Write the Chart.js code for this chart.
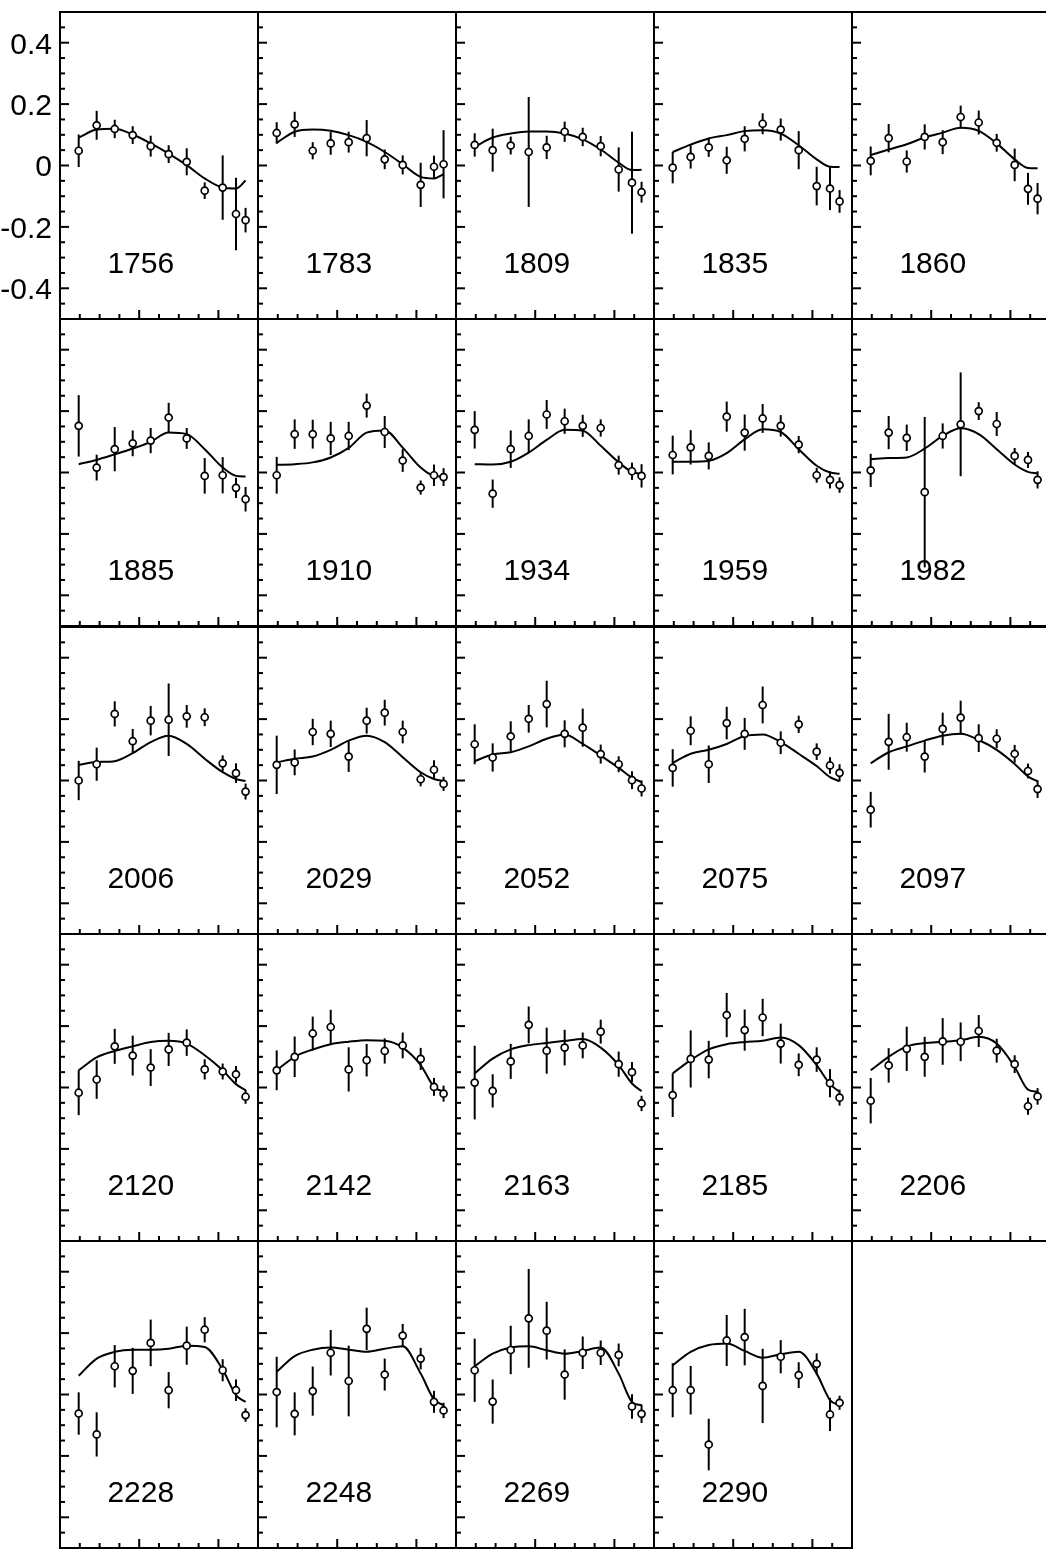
<!DOCTYPE html>
<html>
<head>
<meta charset="utf-8">
<script src="https://cdn.jsdelivr.net/npm/chart.js@4.4.0/dist/chart.umd.min.js"></script>
<style>
  html, body { margin: 0; padding: 0; background: #fff; }
  #fig { position: relative; width: 1046px; height: 1549px; overflow: hidden; background: #fff; }
  #fig canvas { position: absolute; }
</style>
</head>
<body>
<div id="fig"></div>
<script>
// Beam energy of each panel
const energies = ['1756','1783','1809','1835','1860','1885','1910','1934','1959','1982',
                  '2006','2029','2052','2075','2097','2120','2142','2163','2185','2206',
                  '2228','2248','2269','2290'];

// Bin centres shared by every panel
const xBins = [0.236, 0.463, 0.691, 0.918, 1.145, 1.372, 1.600, 1.827, 2.054, 2.222, 2.343];

// Measured values, one row per panel
const values = [
  [0.048, 0.131, 0.119, 0.099, 0.063, 0.037, 0.012, -0.082, -0.072, -0.158, -0.178],
  [0.106, 0.134, 0.048, 0.072, 0.076, 0.089, 0.020, 0.002, -0.063, -0.004, 0.004],
  [0.067, 0.050, 0.065, 0.044, 0.059, 0.110, 0.093, 0.063, -0.013, -0.056, -0.087],
  [-0.007, 0.028, 0.059, 0.017, 0.087, 0.136, 0.117, 0.050, -0.067, -0.075, -0.117],
  [0.015, 0.089, 0.013, 0.093, 0.076, 0.158, 0.140, 0.074, 0.002, -0.076, -0.108],
  [0.152, 0.016, 0.076, 0.095, 0.104, 0.179, 0.111, -0.011, -0.009, -0.050, -0.087],
  [-0.009, 0.125, 0.125, 0.111, 0.119, 0.218, 0.132, 0.039, -0.049, -0.009, -0.015],
  [0.139, -0.069, 0.076, 0.119, 0.189, 0.167, 0.152, 0.145, 0.024, 0.004, -0.011],
  [0.057, 0.082, 0.054, 0.182, 0.130, 0.176, 0.152, 0.091, -0.009, -0.024, -0.041],
  [0.007, 0.130, 0.113, -0.064, 0.119, 0.157, 0.200, 0.158, 0.054, 0.041, -0.024],
  [0.000, 0.053, 0.217, 0.128, 0.195, 0.198, 0.209, 0.206, 0.056, 0.024, -0.036],
  [0.051, 0.059, 0.158, 0.152, 0.078, 0.195, 0.221, 0.158, 0.004, 0.035, -0.011],
  [0.118, 0.075, 0.144, 0.201, 0.249, 0.152, 0.172, 0.086, 0.053, 0.001, -0.026],
  [0.041, 0.162, 0.053, 0.187, 0.152, 0.246, 0.123, 0.183, 0.094, 0.049, 0.025],
  [-0.095, 0.126, 0.141, 0.078, 0.168, 0.205, 0.138, 0.136, 0.087, 0.031, -0.028],
  [-0.017, 0.026, 0.134, 0.104, 0.065, 0.124, 0.146, 0.059, 0.052, 0.043, -0.030],
  [0.056, 0.100, 0.176, 0.197, 0.059, 0.089, 0.119, 0.137, 0.093, 0.002, -0.020],
  [0.016, -0.011, 0.085, 0.204, 0.120, 0.130, 0.137, 0.182, 0.076, 0.050, -0.052],
  [-0.025, 0.093, 0.091, 0.236, 0.187, 0.228, 0.143, 0.074, 0.091, 0.014, -0.033],
  [-0.043, 0.072, 0.126, 0.100, 0.150, 0.149, 0.184, 0.120, 0.076, -0.061, -0.029],
  [-0.062, -0.130, 0.092, 0.077, 0.168, 0.014, 0.159, 0.211, 0.079, 0.014, -0.067],
  [0.008, -0.063, 0.011, 0.136, 0.044, 0.214, 0.065, 0.192, 0.117, -0.024, -0.052],
  [0.079, -0.023, 0.145, 0.248, 0.208, 0.065, 0.136, 0.136, 0.129, -0.039, -0.063],
  [0.014, 0.014, -0.163, 0.176, 0.187, 0.028, 0.123, 0.063, 0.100, -0.065, -0.027]
];

// Symmetric uncertainties, same layout as values
const errors = [
  [0.053, 0.047, 0.030, 0.029, 0.034, 0.029, 0.044, 0.027, 0.105, 0.118, 0.040],
  [0.035, 0.041, 0.028, 0.037, 0.034, 0.059, 0.032, 0.031, 0.072, 0.036, 0.111],
  [0.038, 0.070, 0.029, 0.179, 0.038, 0.033, 0.030, 0.033, 0.072, 0.166, 0.034],
  [0.051, 0.038, 0.031, 0.044, 0.041, 0.034, 0.036, 0.062, 0.063, 0.070, 0.037],
  [0.047, 0.046, 0.036, 0.041, 0.039, 0.037, 0.039, 0.029, 0.053, 0.052, 0.051],
  [0.100, 0.042, 0.072, 0.042, 0.041, 0.048, 0.034, 0.058, 0.059, 0.033, 0.040],
  [0.060, 0.048, 0.047, 0.054, 0.046, 0.039, 0.052, 0.037, 0.023, 0.035, 0.029],
  [0.061, 0.046, 0.061, 0.054, 0.047, 0.041, 0.036, 0.028, 0.031, 0.028, 0.038],
  [0.063, 0.056, 0.044, 0.049, 0.059, 0.047, 0.035, 0.028, 0.024, 0.028, 0.025],
  [0.054, 0.054, 0.043, 0.245, 0.041, 0.169, 0.029, 0.039, 0.026, 0.026, 0.028],
  [0.064, 0.054, 0.041, 0.040, 0.048, 0.118, 0.037, 0.029, 0.026, 0.032, 0.026],
  [0.095, 0.042, 0.043, 0.043, 0.050, 0.042, 0.042, 0.037, 0.023, 0.031, 0.023],
  [0.065, 0.046, 0.049, 0.045, 0.076, 0.044, 0.062, 0.031, 0.026, 0.029, 0.026],
  [0.061, 0.047, 0.061, 0.053, 0.052, 0.060, 0.037, 0.028, 0.027, 0.027, 0.028],
  [0.058, 0.091, 0.047, 0.052, 0.053, 0.055, 0.045, 0.031, 0.029, 0.024, 0.029],
  [0.073, 0.063, 0.057, 0.065, 0.060, 0.054, 0.043, 0.033, 0.026, 0.027, 0.023],
  [0.065, 0.066, 0.055, 0.056, 0.072, 0.053, 0.041, 0.042, 0.036, 0.029, 0.026],
  [0.120, 0.054, 0.057, 0.060, 0.075, 0.058, 0.042, 0.039, 0.041, 0.033, 0.025],
  [0.071, 0.093, 0.061, 0.072, 0.067, 0.061, 0.065, 0.037, 0.040, 0.046, 0.026],
  [0.074, 0.056, 0.072, 0.065, 0.076, 0.063, 0.052, 0.039, 0.029, 0.028, 0.027],
  [0.069, 0.072, 0.069, 0.075, 0.076, 0.059, 0.062, 0.041, 0.036, 0.035, 0.022],
  [0.115, 0.070, 0.080, 0.074, 0.115, 0.069, 0.052, 0.038, 0.035, 0.036, 0.025],
  [0.103, 0.072, 0.079, 0.161, 0.094, 0.082, 0.053, 0.040, 0.037, 0.040, 0.030],
  [0.088, 0.079, 0.084, 0.083, 0.092, 0.121, 0.054, 0.042, 0.034, 0.054, 0.023]
];

// Model curve sampled at the bin centres
const fitCurve = [
  [0.091, 0.117, 0.120, 0.101, 0.072, 0.039, 0.001, -0.042, -0.072, -0.075, -0.049],
  [0.074, 0.110, 0.117, 0.113, 0.099, 0.077, 0.044, 0.004, -0.037, -0.042, -0.028],
  [0.061, 0.091, 0.104, 0.111, 0.111, 0.104, 0.085, 0.052, 0.009, -0.015, -0.014],
  [0.044, 0.068, 0.088, 0.099, 0.112, 0.115, 0.104, 0.066, 0.020, -0.004, -0.005],
  [0.034, 0.052, 0.069, 0.091, 0.107, 0.123, 0.113, 0.072, 0.020, -0.008, -0.009],
  [0.027, 0.041, 0.059, 0.078, 0.100, 0.130, 0.125, 0.076, 0.016, -0.011, -0.013],
  [0.025, 0.027, 0.033, 0.049, 0.080, 0.130, 0.137, 0.081, 0.016, -0.011, -0.013],
  [0.027, 0.026, 0.035, 0.065, 0.106, 0.139, 0.136, 0.087, 0.033, 0.002, -0.005],
  [0.035, 0.035, 0.038, 0.063, 0.108, 0.141, 0.132, 0.076, 0.022, 0.000, -0.004],
  [0.043, 0.047, 0.049, 0.078, 0.119, 0.144, 0.125, 0.076, 0.026, 0.002, -0.003],
  [0.051, 0.060, 0.063, 0.089, 0.125, 0.146, 0.119, 0.071, 0.027, 0.005, -0.002],
  [0.059, 0.071, 0.078, 0.100, 0.130, 0.146, 0.125, 0.076, 0.027, 0.005, -0.002],
  [0.063, 0.085, 0.092, 0.111, 0.136, 0.150, 0.119, 0.081, 0.041, 0.009, -0.005],
  [0.057, 0.087, 0.100, 0.119, 0.145, 0.150, 0.125, 0.087, 0.047, 0.011, -0.002],
  [0.056, 0.092, 0.111, 0.130, 0.146, 0.152, 0.132, 0.100, 0.054, 0.013, -0.003],
  [0.056, 0.098, 0.119, 0.134, 0.148, 0.152, 0.143, 0.105, 0.056, 0.011, -0.009],
  [0.056, 0.100, 0.124, 0.141, 0.149, 0.154, 0.152, 0.130, 0.073, 0.002, -0.014],
  [0.046, 0.094, 0.124, 0.138, 0.145, 0.152, 0.158, 0.130, 0.073, 0.013, -0.012],
  [0.046, 0.089, 0.124, 0.141, 0.148, 0.152, 0.163, 0.138, 0.073, 0.011, -0.014],
  [0.056, 0.100, 0.134, 0.145, 0.149, 0.154, 0.165, 0.143, 0.067, -0.007, -0.014],
  [0.061, 0.117, 0.139, 0.146, 0.146, 0.149, 0.159, 0.155, 0.081, -0.002, -0.024],
  [0.074, 0.125, 0.146, 0.153, 0.146, 0.139, 0.149, 0.157, 0.068, -0.016, -0.035],
  [0.092, 0.133, 0.153, 0.157, 0.144, 0.133, 0.142, 0.153, 0.068, -0.024, -0.035],
  [0.095, 0.139, 0.161, 0.166, 0.142, 0.120, 0.131, 0.139, 0.068, -0.018, -0.035]
];

// Axis ranges and tick marks
const xRange = [0, 2.5];
const yRange = [-0.5, 0.5];
const xTicks = [0.25, 0.5, 0.75, 1, 1.25, 1.5, 1.75, 2, 2.25];
const xMajorTicks = [1, 2];
const yTicks = [-0.45, -0.4, -0.35, -0.3, -0.25, -0.2, -0.15, -0.1, -0.05, 0,
                0.05, 0.1, 0.15, 0.2, 0.25, 0.3, 0.35, 0.4, 0.45];
const yMajorTicks = [-0.4, -0.2, 0, 0.2, 0.4];
const yTickLabels = ['0.4', '0.2', '0', '-0.2', '-0.4'];
const yTickLabelValues = [0.4, 0.2, 0, -0.2, -0.4];

// Panel label anchor (data coordinates)
const labelPos = { x: 1.02, y: -0.350 };

const FONT = '"Liberation Sans", Arial, Helvetica, sans-serif';

const panelPlugin = {
  id: 'panel',
  beforeDatasetsDraw(chart, args, opts) {
    const { ctx, scales: { x, y } } = chart;
    const p = opts.index;
    ctx.save();
    ctx.strokeStyle = '#000';
    ctx.lineWidth = 2;
    ctx.lineCap = 'butt';
    xBins.forEach((xv, k) => {
      const px = x.getPixelForValue(xv);
      ctx.beginPath();
      ctx.moveTo(px, y.getPixelForValue(values[p][k] - errors[p][k]));
      ctx.lineTo(px, y.getPixelForValue(values[p][k] + errors[p][k]));
      ctx.stroke();
    });
    ctx.restore();
  },
  afterDraw(chart, args, opts) {
    const { ctx, scales: { x, y } } = chart;
    const L = x.getPixelForValue(xRange[0]);
    const R = x.getPixelForValue(xRange[1]);
    const T = y.getPixelForValue(yRange[1]);
    const B = y.getPixelForValue(yRange[0]);
    ctx.save();
    ctx.strokeStyle = '#000';
    ctx.fillStyle = '#000';
    ctx.lineWidth = 2;
    // frame
    ctx.strokeRect(L, T, R - L, B - T);
    // inward ticks on the left axis
    yTicks.forEach(v => {
      const py = y.getPixelForValue(v);
      const len = yMajorTicks.some(m => Math.abs(m - v) < 1e-9) ? 9 : 5;
      ctx.beginPath();
      ctx.moveTo(L, py);
      ctx.lineTo(L + len, py);
      ctx.stroke();
    });
    // inward ticks on the bottom axis
    xTicks.forEach(v => {
      const px = x.getPixelForValue(v);
      const len = xMajorTicks.some(m => Math.abs(m - v) < 1e-9) ? 9 : 5;
      ctx.beginPath();
      ctx.moveTo(px, B);
      ctx.lineTo(px, B - len);
      ctx.stroke();
    });
    // energy label
    ctx.font = '30px ' + FONT;
    ctx.textAlign = 'center';
    ctx.textBaseline = 'alphabetic';
    ctx.fillText(energies[opts.index], x.getPixelForValue(labelPos.x), y.getPixelForValue(labelPos.y));
    // y tick labels on the first panel only
    if (opts.index === 0) {
      ctx.textAlign = 'right';
      yTickLabels.forEach((t, i) => {
        ctx.fillText(t, L - 8, y.getPixelForValue(yTickLabelValues[i]) + 10.8);
      });
    }
    ctx.restore();
  }
};

const fig = document.getElementById('fig');
const PAD = 12;
const colLeft = [60, 258, 456, 654, 852];
const rowTop = [12, 319, 627, 934, 1241];
const panelW = 198;
const panelH = 307;

energies.forEach((label, i) => {
  const r = Math.floor(i / 5), c = i % 5;
  const padLeft = (i === 0) ? colLeft[0] : PAD;
  const canvas = document.createElement('canvas');
  const w = panelW + padLeft + PAD;
  const h = panelH + 2 * PAD;
  canvas.width = w; canvas.height = h;
  canvas.style.width = w + 'px'; canvas.style.height = h + 'px';
  canvas.style.left = (colLeft[c] - padLeft) + 'px';
  canvas.style.top = (rowTop[r] - PAD) + 'px';
  fig.appendChild(canvas);

  new Chart(canvas, {
    type: 'scatter',
    data: {
      datasets: [
        {
          label: 'data',
          data: xBins.map((xv, k) => ({ x: xv, y: values[i][k] })),
          pointRadius: 3.5,
          pointBorderWidth: 1.7,
          pointBackgroundColor: '#fff',
          pointBorderColor: '#000',
          showLine: false,
          order: 0
        },
        {
          label: 'fit',
          data: xBins.map((xv, k) => ({ x: xv, y: fitCurve[i][k] })),
          showLine: true,
          borderColor: '#000',
          borderWidth: 2,
          pointRadius: 0,
          cubicInterpolationMode: 'monotone',
          fill: false,
          order: 1
        }
      ]
    },
    options: {
      responsive: false,
      devicePixelRatio: 1,
      animation: false,
      events: [],
      layout: { padding: { left: padLeft, right: PAD, top: PAD, bottom: PAD } },
      scales: {
        x: { type: 'linear', min: xRange[0], max: xRange[1], display: false },
        y: { type: 'linear', min: yRange[0], max: yRange[1], display: false }
      },
      plugins: {
        legend: { display: false },
        tooltip: { enabled: false },
        panel: { index: i }
      }
    },
    plugins: [panelPlugin]
  });
});
</script>
</body>
</html>
